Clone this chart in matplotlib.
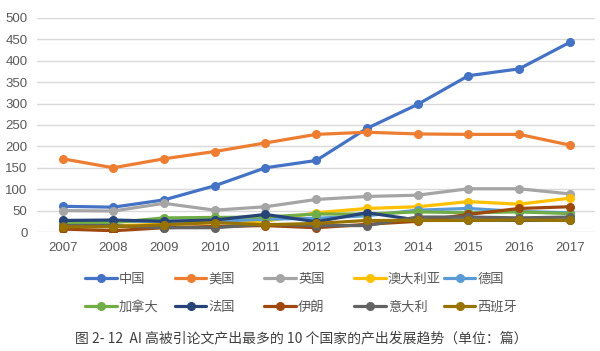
import matplotlib
matplotlib.use('Agg')
import matplotlib.pyplot as plt

plt.rcParams['font.family'] = ['Noto Sans CJK SC', 'DejaVu Sans']

years = list(range(2007, 2018))
countries = ['中国', '美国', '英国', '澳大利亚', '德国',
             '加拿大', '法国', '伊朗', '意大利', '西班牙']
colors = ['#4472C4', '#ED7D31', '#A5A5A5', '#FFC000', '#5B9BD5',
          '#70AD47', '#264478', '#9E480E', '#636363', '#997300']

china = [60, 58, 75, 108, 150, 167, 242, 298, 365, 381, 443]
usa = [171, 150, 171, 188, 208, 228, 233, 229, 228, 228, 203]
uk = [50, 49, 67, 51, 59, 76, 83, 86, 101, 101, 89]
australia = [15, 15, 18, 22, 25, 45, 55, 59, 71, 65, 79]
germany = [25, 25, 25, 25, 30, 32, 38, 51, 55, 48, 45]
canada = [22, 22, 33, 34, 35, 42, 42, 47, 45, 47, 43]
france = [27, 28, 25, 28, 41, 24, 45, 28, 28, 27, 28]
iran = [7, 3, 10, 13, 15, 10, 18, 25, 41, 55, 59]
italy = [15, 15, 10, 10, 18, 15, 15, 35, 35, 33, 35]
spain = [12, 12, 17, 22, 17, 20, 27, 27, 27, 28, 27]
series = [china, usa, uk, australia, germany,
          canada, france, iran, italy, spain]

fig = plt.figure(figsize=(6, 3.51), dpi=100)
ax = fig.add_axes([0.062, 0.339, 0.93, 0.61])

lines = []
for name, vals, c in zip(countries, series, colors):
    ln, = ax.plot(years, vals, color=c, lw=2.3, marker='o', ms=5.5,
                  label=name, solid_capstyle='round')
    lines.append(ln)

ax.set_xlim(2006.5, 2017.5)
ax.set_ylim(0, 500)
ax.set_xticks(years)
ax.set_yticks(range(0, 501, 50))
ax.grid(axis='y', color='#D9D9D9', lw=1)
ax.set_axisbelow(True)
for s in ax.spines.values():
    s.set_visible(False)
ax.tick_params(length=0, labelsize=9.5, colors='#595959', pad=7)
for lab in ax.get_xticklabels() + ax.get_yticklabels():
    lab.set_family(['Liberation Sans', 'DejaVu Sans'])

# legend: fixed-width slots, two rows of five
for i, ln in enumerate(lines):
    row, col = divmod(i, 5)
    x = (85 + col * 89.7) / 600
    y = 1 - (279 + row * 28) / 351
    fig.legend([ln], [countries[i]], loc='center left',
               bbox_to_anchor=(x, y), frameon=False, fontsize=9.5,
               handlelength=2.4, handletextpad=0.15, labelcolor='#595959',
               borderaxespad=0, borderpad=0)

fig.text(0.125, 0.037, '图 2- 12  AI 高被引论文产出最多的 10 个国家的产出发展趋势（单位：篇）',
         fontsize=10, color='#404040', va='center')

fig.savefig('out.png', dpi=100)
